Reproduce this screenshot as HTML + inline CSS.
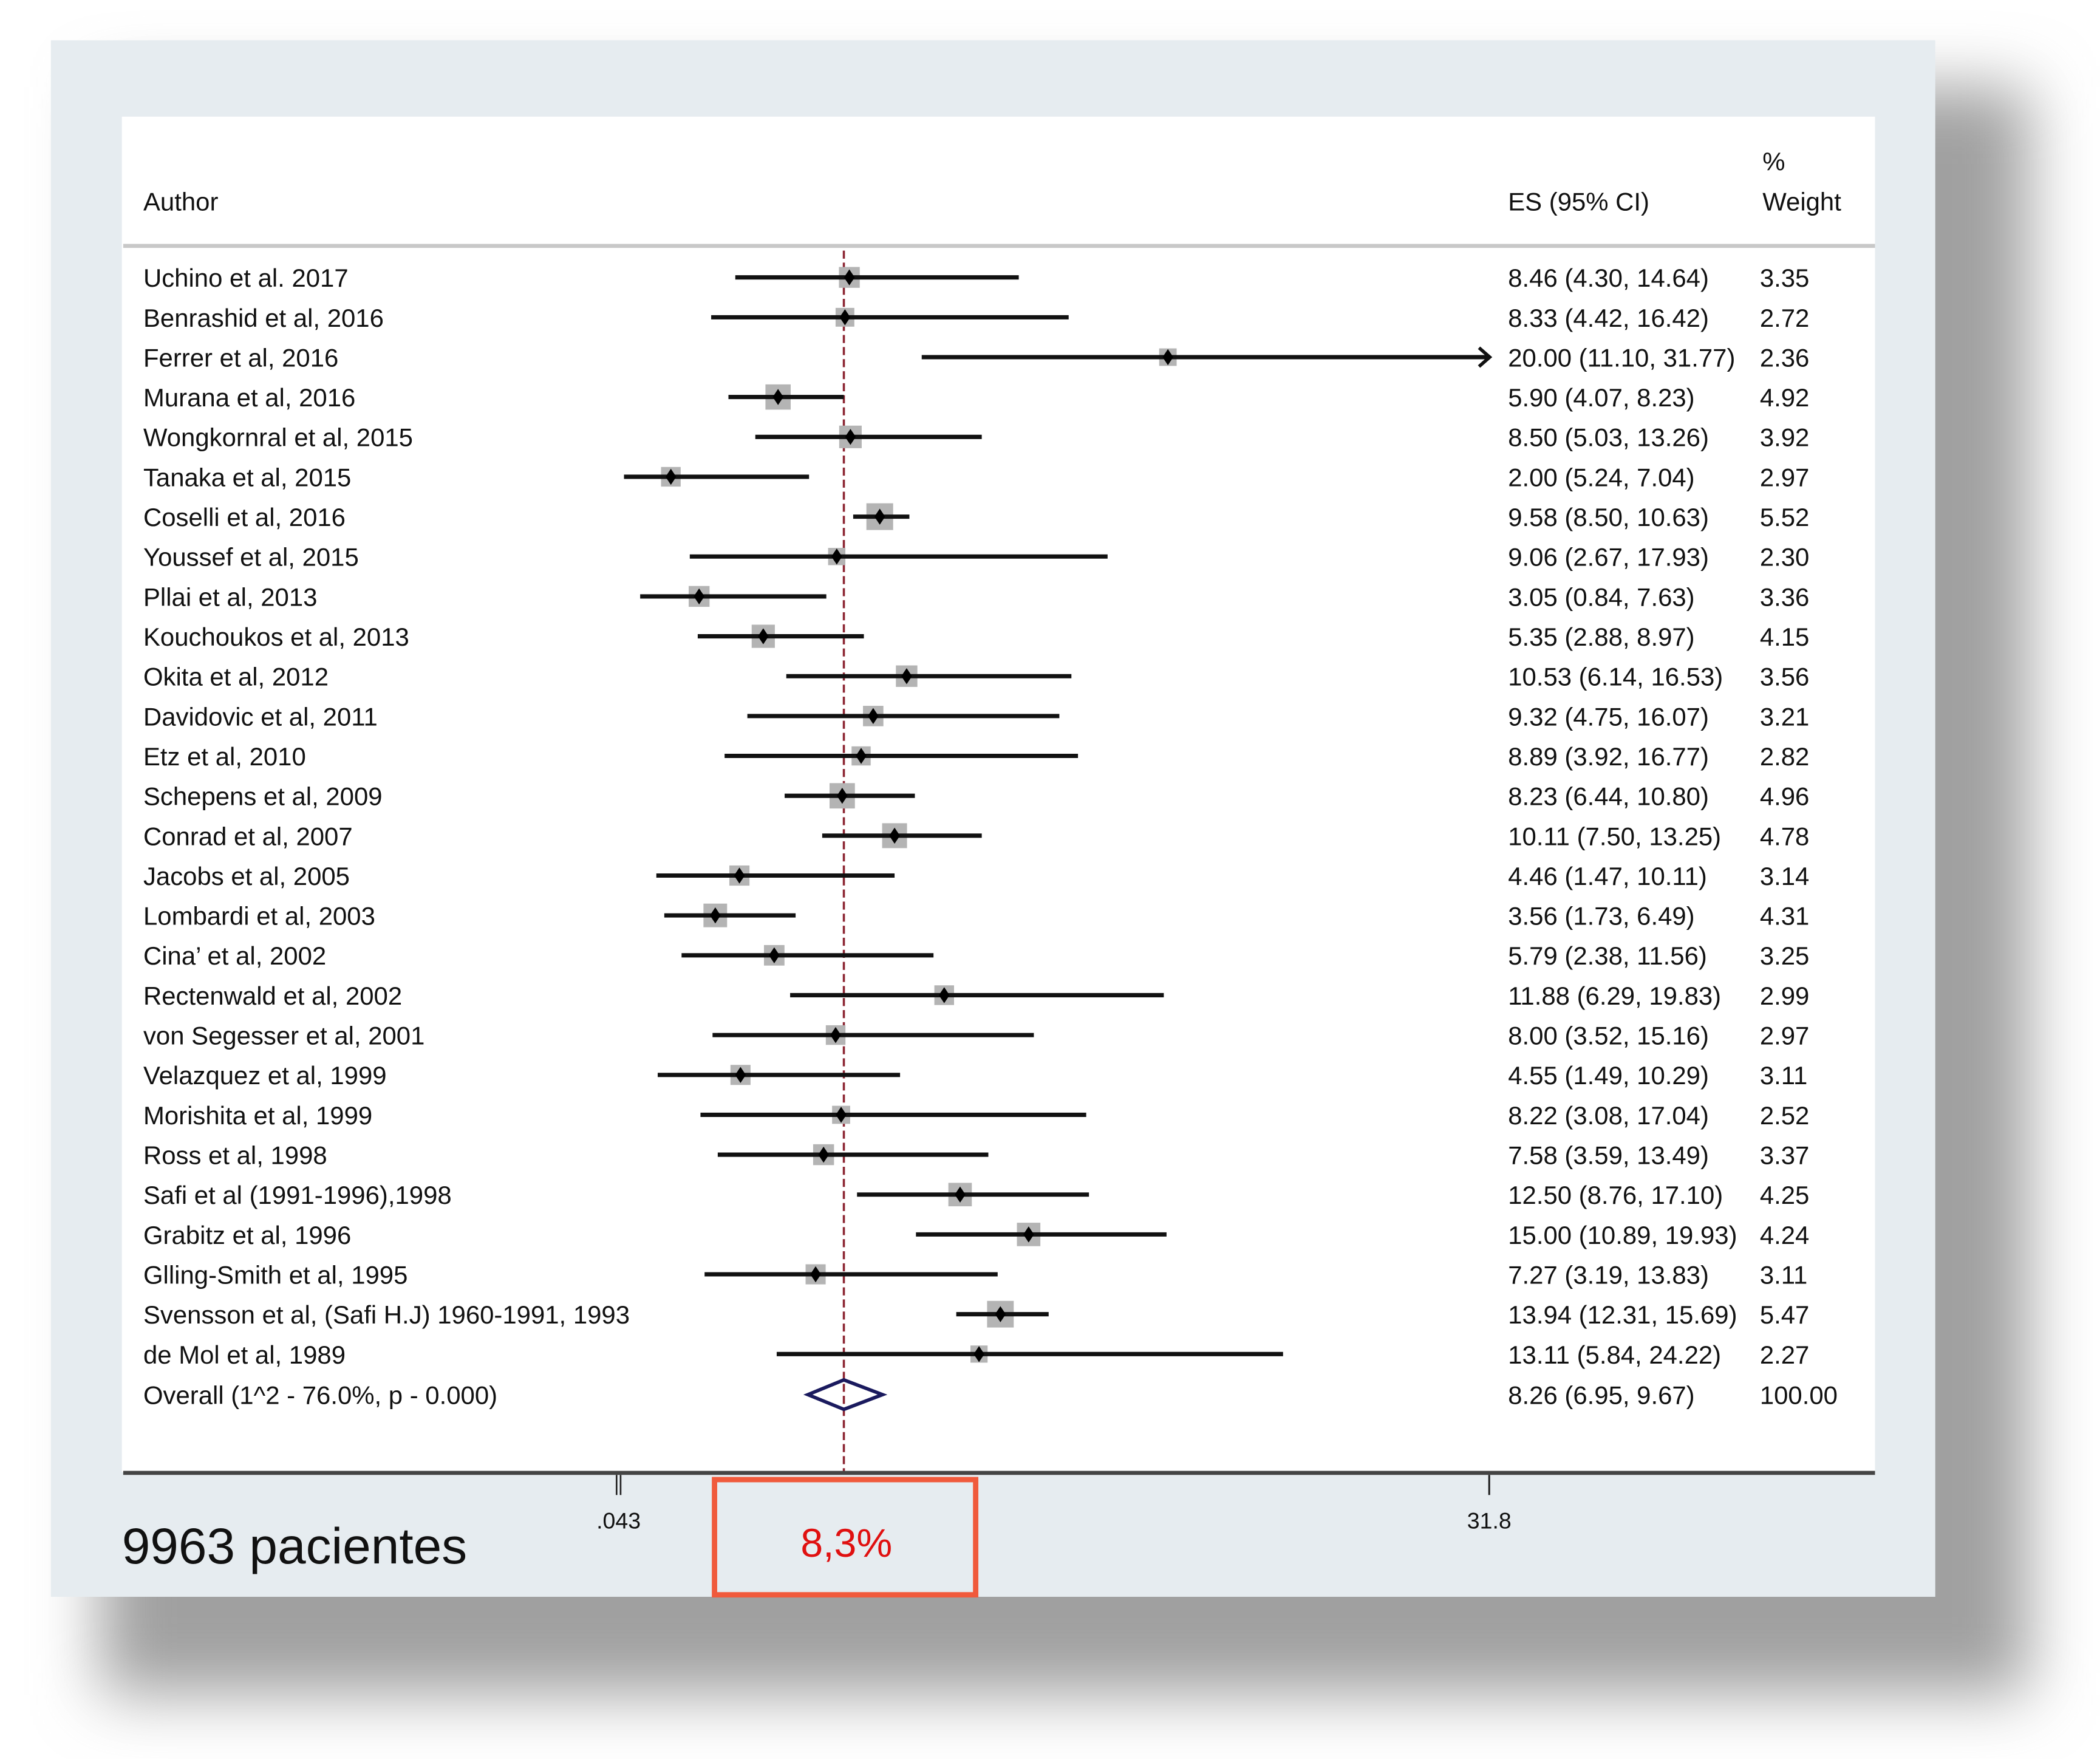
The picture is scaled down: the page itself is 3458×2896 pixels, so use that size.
<!DOCTYPE html>
<html><head><meta charset="utf-8">
<style>
html,body{margin:0;padding:0;background:#fff;}
svg{display:block;}
text{font-family:"Liberation Sans",Arial,sans-serif;fill:#111;}
</style></head>
<body>
<svg id="chart" width="3458" height="2896" viewBox="0 0 1568 1313" xmlns="http://www.w3.org/2000/svg">
<defs>
<filter id="blur" x="-10%" y="-10%" width="120%" height="120%"><feGaussianBlur stdDeviation="24"/></filter>
</defs>
<rect x="75" y="65" width="1440" height="1200" fill="#a0a0a0" filter="url(#blur)"/>
<rect x="38" y="30" width="1407" height="1162" fill="#e6ecf0"/>
<rect x="91" y="87" width="1309" height="1012" fill="#fff"/>
<text x="107" y="157" font-size="19">Author</text>
<text x="1126" y="157" font-size="19">ES (95% CI)</text>
<text x="1316" y="127" font-size="19">%</text>
<text x="1316" y="157" font-size="19">Weight</text>
<rect x="92" y="182" width="1308" height="3" fill="#c8c8c8"/>
<g id="rows"></g>
<g id="marks"></g>
<line x1="92" y1="1099.5" x2="1400" y2="1099.5" stroke="#444" stroke-width="3"/>
<g id="ticks"></g>
<text x="91" y="1167" font-size="38">9963 pacientes</text>
<rect x="533.5" y="1104.5" width="195" height="86" fill="none" stroke="#f05a3c" stroke-width="4"/>
<text x="632" y="1162" font-size="30" text-anchor="middle" style="fill:#e01010">8,3%</text>
</svg>
<script>
const authors=["Uchino et al. 2017","Benrashid et al, 2016","Ferrer et al, 2016","Murana et al, 2016","Wongkornral et al, 2015","Tanaka et al, 2015","Coselli et al, 2016","Youssef et al, 2015","Pllai et al, 2013","Kouchoukos et al, 2013","Okita et al, 2012","Davidovic et al, 2011","Etz et al, 2010","Schepens et al, 2009","Conrad et al, 2007","Jacobs et al, 2005","Lombardi et al, 2003","Cina’ et al, 2002","Rectenwald et al, 2002","von Segesser et al, 2001","Velazquez et al, 1999","Morishita et al, 1999","Ross et al, 1998","Safi et al (1991-1996),1998","Grabitz et al, 1996","Glling-Smith et al, 1995","Svensson et al, (Safi H.J) 1960-1991, 1993","de Mol et al, 1989"];
const esLabels=["8.46 (4.30, 14.64)","8.33 (4.42, 16.42)","20.00 (11.10, 31.77)","5.90 (4.07, 8.23)","8.50 (5.03, 13.26)","2.00 (5.24, 7.04)","9.58 (8.50, 10.63)","9.06 (2.67, 17.93)","3.05 (0.84, 7.63)","5.35 (2.88, 8.97)","10.53 (6.14, 16.53)","9.32 (4.75, 16.07)","8.89 (3.92, 16.77)","8.23 (6.44, 10.80)","10.11 (7.50, 13.25)","4.46 (1.47, 10.11)","3.56 (1.73, 6.49)","5.79 (2.38, 11.56)","11.88 (6.29, 19.83)","8.00 (3.52, 15.16)","4.55 (1.49, 10.29)","8.22 (3.08, 17.04)","7.58 (3.59, 13.49)","12.50 (8.76, 17.10)","15.00 (10.89, 19.93)","7.27 (3.19, 13.83)","13.94 (12.31, 15.69)","13.11 (5.84, 24.22)"];
const weights=[3.35,2.72,2.36,4.92,3.92,2.97,5.52,2.30,3.36,4.15,3.56,3.21,2.82,4.96,4.78,3.14,4.31,3.25,2.99,2.97,3.11,2.52,3.37,4.25,4.24,3.11,5.47,2.27];
const estimates=[8.46,8.3,20.08,5.86,8.5,1.95,9.57,8.0,2.98,5.32,10.55,9.33,8.89,8.2,10.11,4.45,3.57,5.72,11.92,7.96,4.49,8.16,7.52,12.5,15.0,7.23,13.97,13.19];
const lowers=[4.30,3.42,11.10,4.05,5.03,0.24,8.6,2.64,0.83,2.93,6.16,4.74,3.91,6.1,7.47,1.42,1.71,2.34,6.3,3.47,1.47,3.03,3.66,8.74,10.89,3.18,12.36,5.81];
const uppers=[14.64,16.46,31.77,8.26,13.29,6.99,10.65,17.88,7.62,8.99,16.56,16.12,16.8,10.85,13.29,10.11,6.5,11.53,19.93,15.19,10.31,17.1,13.53,17.2,20.03,13.87,15.73,24.28];
const overall={es:8.26,lo:6.95,hi:9.67,label:"8.26 (6.95, 9.67)",weight:"100.00",name:"Overall (1^2 - 76.0%, p - 0.000)"};
const tickValues=[0.043,31.8];
const tickLabels=[".043","31.8"];
const axisMax=31.8;

const NS="http://www.w3.org/2000/svg";
const x=v=>461+v*20.47;
const rowY=i=>207+i*29.77;
function mk(tag,attrs,parent){const e=document.createElementNS(NS,tag);for(const k in attrs)e.setAttribute(k,attrs[k]);parent.appendChild(e);return e;}
const rows=document.getElementById('rows'),marks=document.getElementById('marks'),ticks=document.getElementById('ticks');
const yOv=rowY(authors.length)+0.5;
let ref=mk('line',{x1:x(overall.es),y1:187,x2:x(overall.es),y2:1099,stroke:'#8b2330','stroke-width':1.6,'stroke-dasharray':'6 3'},marks);


authors.forEach((a,i)=>{
  const y=rowY(i);
  let t=mk('text',{x:107,y:y+7,'font-size':19},rows);t.textContent=a;
  
  
  let e=mk('text',{x:1126,y:y+7,'font-size':19},rows);e.textContent=esLabels[i];
  
  
  let w=mk('text',{x:1314,y:y+7,'font-size':19},rows);w.textContent=weights[i].toFixed(2);
  
  
  const s=8.5*Math.sqrt(weights[i]);
  let b=mk('rect',{x:x(estimates[i])-s/2,y:y-s/2,width:s,height:s,fill:'#b4b4b4'},marks);
  
  
  const hi=Math.min(uppers[i],axisMax);
  let l=mk('line',{x1:x(lowers[i]),y1:y,x2:x(hi),y2:y,stroke:'#111','stroke-width':3.2},marks);
  
  
  if(uppers[i]>=axisMax-0.2){
    let ar=mk('path',{d:`M${x(hi)-7},${y-7} L${x(hi)+1},${y} L${x(hi)-7},${y+7}`,fill:'none',stroke:'#111','stroke-width':2.5},marks);
    
    
  }
  const cx=x(estimates[i]);
  let d=mk('path',{d:`M${cx},${y-6} L${cx+4},${y} L${cx},${y+6} L${cx-4},${y} Z`,fill:'#000'},marks);
  
  
});
let ot=mk('text',{x:107,y:yOv+7,'font-size':19},rows);ot.textContent=overall.name;


let oe=mk('text',{x:1126,y:yOv+7,'font-size':19},rows);oe.textContent=overall.label;


let ow=mk('text',{x:1314,y:yOv+7,'font-size':19},rows);ow.textContent=overall.weight;


let dm=mk('path',{d:`M${x(overall.lo)},${yOv} L${x(overall.es)},${yOv-11} L${x(overall.hi)},${yOv} L${x(overall.es)},${yOv+11} Z`,fill:'none',stroke:'#1a1a5e','stroke-width':2.6},marks);


tickValues.forEach((v,i)=>{
  const tx=x(v);
  if(i===0){
    let a1=mk('line',{x1:tx-1.5,y1:1101,x2:tx-1.5,y2:1116,stroke:'#222','stroke-width':1.2},ticks);
    
    
    let a2=mk('line',{x1:tx+1.5,y1:1101,x2:tx+1.5,y2:1116,stroke:'#222','stroke-width':1.2},ticks);
    
    
  } else {
    let a=mk('line',{x1:tx,y1:1101,x2:tx,y2:1116,stroke:'#222','stroke-width':1.4},ticks);
    
    
  }
  let t=mk('text',{x:tx,y:1141,'font-size':17,'text-anchor':'middle'},ticks);t.textContent=tickLabels[i];
  
  
});
</script>
</body></html>
